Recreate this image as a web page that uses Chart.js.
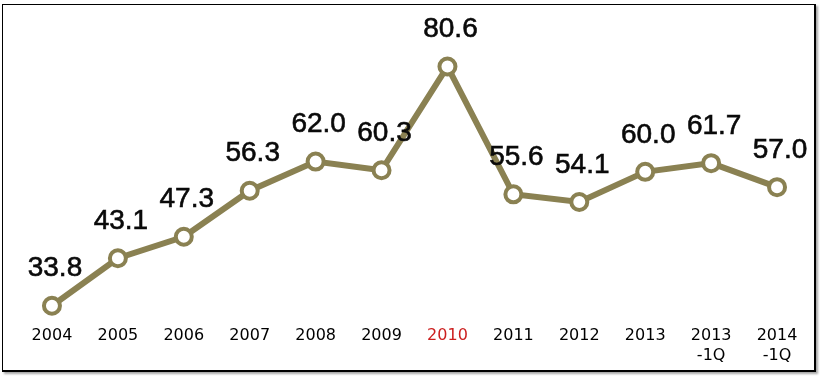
<!DOCTYPE html>
<html lang="ko">
<head>
    <meta charset="UTF-8">
    <title>Line Chart 2004-2014</title>
    <script src="https://cdn.jsdelivr.net/npm/chart.js"></script>
    <style>
        html, body {
            margin: 0;
            padding: 0;
            background: #fff;
        }
        #wrap {
            position: relative;
            width: 824px;
            height: 377px;
        }
        #frame {
            position: absolute;
            left: 2px;
            top: 4px;
            width: 811px;
            height: 365px;
            border-top: 1px solid #000;
            border-left: 1px solid #000;
            border-right: 2px solid #000;
            border-bottom: 2px solid #000;
            box-shadow: 2px 2px 2px rgba(0, 0, 0, 0.35);
            pointer-events: none;
        }
        canvas {
            position: absolute;
            left: 0;
            top: 0;
        }
    </style>
</head>
<body>
<div id="wrap">
    <canvas id="lineChart" width="824" height="377"></canvas>
    <div id="frame"></div>
</div>

<script>
    // data
    const years = ['2004', '2005', '2006', '2007', '2008', '2009', '2010',
                   '2011', '2012', '2013', ['2013', '-1Q'], ['2014', '-1Q']];
    const values = [33.8, 43.1, 47.3, 56.3, 62.0, 60.3, 80.6, 55.6, 54.1, 60.0, 61.7, 57.0];
    const highlightYear = '2010';

    const olive = '#8a8152';

    // value labels above each point
    const valueLabels = {
        id: 'valueLabels',
        afterDatasetsDraw(chart) {
            const ctx = chart.ctx;
            const meta = chart.getDatasetMeta(0);
            ctx.save();
            ctx.font = '28px "Liberation Sans", Arial, sans-serif';
            ctx.fillStyle = '#0a0a0a';
            ctx.strokeStyle = '#0a0a0a';
            ctx.lineWidth = 0.6;
            ctx.textAlign = 'center';
            ctx.textBaseline = 'middle';
            meta.data.forEach((pt, i) => {
                const txt = values[i].toFixed(1);
                ctx.fillText(txt, pt.x + 3, pt.y - 37);
                ctx.strokeText(txt, pt.x + 3, pt.y - 37);
            });
            ctx.restore();
        }
    };

    new Chart(document.getElementById('lineChart'), {
        type: 'line',
        data: {
            labels: years,
            datasets: [{
                data: values,
                borderColor: olive,
                borderWidth: 6,
                tension: 0,
                fill: false,
                pointRadius: 8,
                pointBorderWidth: 4,
                pointBackgroundColor: '#ffffff',
                pointBorderColor: olive
            }]
        },
        options: {
            responsive: false,
            animation: false,
            layout: {
                padding: { left: 19, right: 14, top: 20, bottom: 2 }
            },
            plugins: {
                legend: { display: false },
                tooltip: { enabled: false }
            },
            scales: {
                y: {
                    display: false,
                    min: 31.6,
                    max: 89.7
                },
                x: {
                    offset: true,
                    grid: { display: false, drawTicks: false },
                    border: { display: false },
                    ticks: {
                        padding: 9,
                        maxRotation: 0,
                        autoSkip: false,
                        font: { family: '"DejaVu Sans", sans-serif', size: 16, lineHeight: 1.25 },
                        color: (c) => years[c.index] === highlightYear ? '#cc1f1f' : '#000000'
                    }
                }
            }
        },
        plugins: [valueLabels]
    });
</script>
</body>
</html>
